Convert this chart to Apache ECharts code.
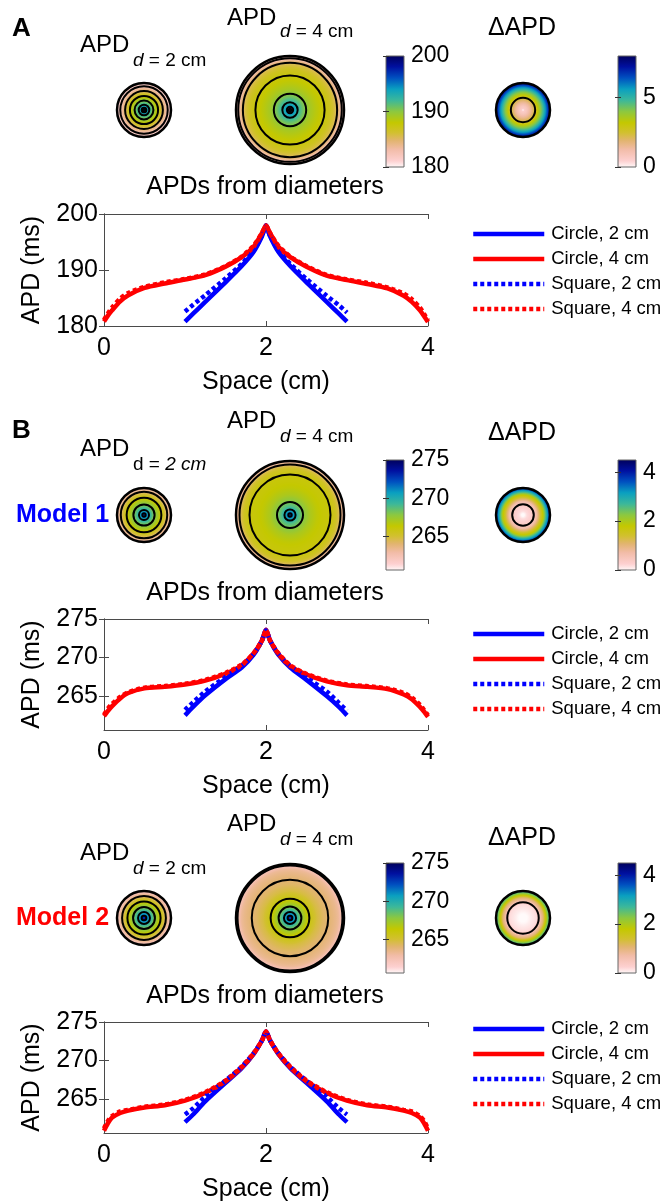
<!DOCTYPE html>
<html><head><meta charset="utf-8">
<script src="https://cdn.jsdelivr.net/npm/echarts@6/dist/echarts.min.js"></script>
<style>html,body{margin:0;padding:0;background:#fff}#c{width:665px;height:1204px}</style>
</head><body><div id="c"></div>
<script>
// ---------------- data ----------------
const xs4 = [0, 0.05, 0.1, 0.2, 0.3, 0.5, 0.75, 1, 1.25, 1.5, 1.7, 1.85, 1.95, 2, 2.05, 2.15, 2.3, 2.5, 2.75, 3, 3.25, 3.5, 3.7, 3.8, 3.9, 3.95, 4];
const xs2 = [1, 1.1, 1.25, 1.5, 1.7, 1.85, 1.95, 2, 2.05, 2.15, 2.3, 2.5, 2.75, 2.9, 3];

const A_circle4 = [180.8, 181.9, 182.8, 184.4, 185.5, 186.8, 187.6, 188.3, 189.1, 190.6, 192.3, 194.2, 196.6, 198.0, 196.6, 194.2, 192.3, 190.6, 189.0, 188.2, 187.5, 186.7, 185.4, 184.3, 182.8, 181.8, 180.7];
const A_square4 = [181.1, 182.3, 183.3, 184.9, 185.9, 187.0, 187.8, 188.4, 189.2, 190.7, 192.4, 194.4, 196.6, 197.9, 196.6, 194.4, 192.4, 190.7, 189.1, 188.3, 187.7, 186.9, 185.8, 184.8, 183.3, 182.2, 181.0];
const A_circle2 = [180.8, 182.2, 184.3, 187.8, 190.7, 193.3, 196.0, 198.0, 196.0, 193.3, 190.7, 187.8, 184.3, 182.2, 180.8];
const A_square2 = [182.6, 183.8, 185.5, 188.5, 191.1, 193.6, 196.1, 197.9, 196.1, 193.6, 191.1, 188.4, 185.4, 183.7, 182.4];

const B1_circle4 = [262.4, 263.1, 263.7, 264.7, 265.4, 266.0, 266.2, 266.5, 267.0, 267.9, 269.0, 270.6, 272.2, 273.6, 272.2, 270.5, 268.9, 267.8, 266.9, 266.4, 266.2, 265.9, 265.2, 264.6, 263.6, 263.0, 262.3];
const B1_square4 = [262.6, 263.4, 264.0, 264.9, 265.5, 266.1, 266.3, 266.6, 267.1, 268.0, 269.1, 270.6, 272.2, 273.5, 272.2, 270.6, 269.0, 267.9, 267.0, 266.5, 266.3, 266.0, 265.4, 264.8, 263.9, 263.2, 262.5];
const B1_circle2 = [262.5, 263.6, 265.1, 267.2, 268.7, 270.4, 272.2, 273.6, 272.2, 270.4, 268.7, 267.1, 265.0, 263.6, 262.5];
const B1_square2 = [263.2, 264.2, 265.6, 267.5, 268.9, 270.5, 272.2, 273.5, 272.2, 270.5, 268.9, 267.4, 265.6, 264.1, 263.1];

const B2_circle4 = [260.9, 261.9, 262.6, 263.2, 263.5, 263.9, 264.2, 264.8, 265.8, 267.3, 269.1, 270.9, 272.6, 273.8, 272.6, 270.9, 269.1, 267.3, 265.8, 264.8, 264.2, 263.9, 263.5, 263.2, 262.6, 261.9, 260.9];
const B2_square4 = [261.2, 262.2, 262.8, 263.4, 263.6, 264.0, 264.3, 264.9, 265.9, 267.4, 269.2, 271.0, 272.6, 273.7, 272.6, 271.0, 269.2, 267.4, 265.9, 264.9, 264.3, 264.0, 263.6, 263.4, 262.8, 262.2, 261.2];
const B2_circle2 = [262.0, 263.0, 264.7, 267.1, 269.0, 270.9, 272.6, 273.8, 272.6, 270.9, 269.0, 267.1, 264.7, 263.0, 262.0];
const B2_square2 = [263.0, 263.8, 265.3, 267.4, 269.2, 271.0, 272.6, 273.7, 272.6, 271.0, 269.2, 267.4, 265.3, 263.8, 263.0];

const legendNames = ['Circle, 2 cm', 'Circle, 4 cm', 'Square, 2 cm', 'Square, 4 cm'];
const xTicks = [0, 2, 4];
const xRange = [0, 4];
const yRangeA = [180, 200];
const yTicksA = [180, 190, 200];
const yRangeB = [260.6, 275];
const yTicksB = [265, 270, 275];
const deltaRangeA = [0, 8];
const deltaTicksA = [0, 5];
const deltaRangeB = [0, 4.5];
const deltaTicksB = [0, 2, 4];
const contourA = [182.5, 185, 187.5, 190, 192.5, 195, 197.5];
const contourB = [262, 264, 266, 268, 270, 272];
const contourDeltaA = [2.5, 7.5];
const contourDeltaB = [0.5];

// ---------------- style ----------------
const FONT = '"Liberation Sans", Arial, Helvetica, sans-serif';
const CMAP = [[0, '#fffafa'], [0.06, '#fdd0d0'], [0.16, '#f2bca8'], [0.24, '#e2b470'], [0.31, '#d2c030'],
  [0.4, '#c4c800'], [0.5, '#8cc840'], [0.6, '#3cb89a'], [0.7, '#0aa0c0'], [0.8, '#0050c0'], [0.9, '#0010a0'], [1, '#00005a']];
function h2r(h) { return [parseInt(h.slice(1, 3), 16), parseInt(h.slice(3, 5), 16), parseInt(h.slice(5, 7), 16)]; }
function cmap(t) {
  t = Math.max(0, Math.min(1, t));
  for (let i = 0; i < CMAP.length - 1; i++) {
    const a = CMAP[i], b = CMAP[i + 1];
    if (t <= b[0]) {
      const f = (t - a[0]) / (b[0] - a[0]); const ca = h2r(a[1]), cb = h2r(b[1]);
      return 'rgb(' + ca.map((v, k) => Math.round(v + (cb[k] - v) * f)).join(',') + ')';
    }
  }
  return CMAP[CMAP.length - 1][1];
}
function interpXY(xs, ys, x) {
  for (let i = 0; i < xs.length - 1; i++) {
    if (x >= xs[i] && x <= xs[i + 1]) return ys[i] + (ys[i + 1] - ys[i]) * (x - xs[i]) / (xs[i + 1] - xs[i]);
  }
  return x < xs[0] ? ys[0] : ys[ys.length - 1];
}
function halfProfile(xs, ys) {
  const p = []; xs.forEach((x, i) => { if (x <= 2) p.push([2 - x, ys[i]]); });
  return p.sort((a, b) => a[0] - b[0]);
}
function deltaProfile(c2, c4) {
  const p = []; xs2.forEach((x, i) => { if (x <= 2) p.push([2 - x, interpXY(xs4, c4, x) - c2[i]]); });
  return p.sort((a, b) => a[0] - b[0]);
}
function profAt(p, r) { return interpXY(p.map(q => q[0]), p.map(q => q[1]), r); }
function crossing(p, L) {
  for (let i = 0; i < p.length - 1; i++) {
    const a = p[i], b = p[i + 1];
    if ((a[1] - L) * (b[1] - L) <= 0 && a[1] !== b[1]) return a[0] + (L - a[1]) / (b[1] - a[1]) * (b[0] - a[0]);
  }
  return null;
}

// ---------------- builders ----------------
const grids = [], xAxis = [], yAxis = [], series = [], legends = [], graphics = [];
function addGrid(g) { grids.push(g); return grids.length - 1; }
function addX(o) { xAxis.push(o); return xAxis.length - 1; }
function addY(o) { yAxis.push(o); return yAxis.length - 1; }
const AXC = '#4a4a4a';

function makeDisk(profile, R, range, levels) {
  return function (params, api) {
    const c = api.coord([0, 0]);
    const pr = api.size([R, 0])[0];
    const N = 90, stops = [];
    for (let i = 0; i <= N; i++) {
      const v = profAt(profile, R * i / N);
      stops.push({ offset: i / N, color: cmap((v - range[0]) / (range[1] - range[0])) });
    }
    const ch = [{ type: 'circle', shape: { cx: c[0], cy: c[1], r: pr },
      style: { fill: new echarts.graphic.RadialGradient(0.5, 0.5, 0.5, stops) } }];
    levels.forEach(L => {
      const r = crossing(profile, L);
      if (r !== null && r < R * 0.985) {
        ch.push({ type: 'circle', shape: { cx: c[0], cy: c[1], r: Math.max(api.size([r, 0])[0], 1.3) },
          style: { fill: 'none', stroke: '#000', lineWidth: 2 } });
      }
    });
    ch.push({ type: 'circle', shape: { cx: c[0], cy: c[1], r: pr }, style: { fill: 'none', stroke: '#000', lineWidth: 2.5 } });
    return { type: 'group', children: ch };
  };
}
function addDisk(cx, cy, profile, R, range, levels) {
  const gi = addGrid({ left: cx - 54, top: cy - 54, width: 108, height: 108 });
  const xi = addX({ type: 'value', gridIndex: gi, min: -2, max: 2, show: false });
  const yi = addY({ type: 'value', gridIndex: gi, min: -2, max: 2, show: false });
  series.push({ type: 'custom', coordinateSystem: 'cartesian2d', xAxisIndex: xi, yAxisIndex: yi,
    data: [[0, 0]], renderItem: makeDisk(profile, R, range, levels), silent: true, clip: false });
}
function addColorbar(left, top, h, range, ticks) {
  const gi = addGrid({ left: left, top: top, width: 18, height: h });
  const xi = addX({ type: 'value', gridIndex: gi, min: 0, max: 1, show: false });
  const yi = addY({ type: 'value', gridIndex: gi, min: range[0], max: range[1], position: 'right', z: 5,
    axisLine: { show: false }, splitLine: { show: false },
    axisTick: { show: true, inside: true, length: 3, customValues: ticks, lineStyle: { color: '#333' } },
    axisLabel: { customValues: ticks, fontSize: 23, fontFamily: FONT, color: '#000', margin: 7 } });
  addY({ type: 'value', gridIndex: gi, min: range[0], max: range[1], position: 'left', z: 5,
    axisLine: { show: false }, splitLine: { show: false }, axisLabel: { show: false },
    axisTick: { show: true, inside: true, length: 3, customValues: ticks, lineStyle: { color: '#333' } } });
  const stops = CMAP.map(s => ({ offset: s[0], color: s[1] }));
  series.push({ type: 'custom', coordinateSystem: 'cartesian2d', xAxisIndex: xi, yAxisIndex: yi,
    data: [[0, range[0]]], silent: true, clip: false,
    renderItem: function (params, api) {
      const p0 = api.coord([0, range[1]]), p1 = api.coord([1, range[0]]);
      return { type: 'rect', shape: { x: p0[0], y: p0[1], width: p1[0] - p0[0], height: p1[1] - p0[1] },
        style: { fill: new echarts.graphic.LinearGradient(0, 1, 0, 0, stops), stroke: '#666', lineWidth: 1 } };
    } });
}
function addLinePlot(p) {
  const gi = addGrid({ left: 104, top: p.lineTop, width: 324, height: p.lineH });
  const tick = { show: true, inside: true, length: 5, lineStyle: { color: AXC } };
  const line = { show: true, lineStyle: { color: AXC, width: 1 } };
  const nameStyle = { fontSize: 25, fontFamily: FONT, color: '#000' };
  const xb = addX({ type: 'value', gridIndex: gi, min: xRange[0], max: xRange[1], position: 'bottom',
    axisLine: line, splitLine: { show: false }, axisTick: Object.assign({ customValues: xTicks }, tick),
    axisLabel: { customValues: xTicks, fontSize: 25, fontFamily: FONT, color: '#000', margin: 10 },
    name: 'Space (cm)', nameLocation: 'middle', nameGap: 44, nameTextStyle: nameStyle });
  addX({ type: 'value', gridIndex: gi, min: xRange[0], max: xRange[1], position: 'top',
    axisLine: line, splitLine: { show: false }, axisTick: Object.assign({ customValues: xTicks }, tick), axisLabel: { show: false } });
  const yl = addY({ type: 'value', gridIndex: gi, min: p.yRange[0], max: p.yRange[1], position: 'left',
    axisLine: line, splitLine: { show: false }, axisTick: Object.assign({ customValues: p.yTicks }, tick),
    axisLabel: { customValues: p.yTicks, fontSize: 25, fontFamily: FONT, color: '#000', margin: 6 },
    name: 'APD (ms)', nameLocation: 'middle', nameGap: 59, nameRotate: 90, nameTextStyle: nameStyle });
  addY({ type: 'value', gridIndex: gi, min: p.yRange[0], max: p.yRange[1], position: 'right',
    axisLine: line, splitLine: { show: false }, axisTick: Object.assign({ customValues: p.yTicks }, tick), axisLabel: { show: false } });
  const defs = [
    [legendNames[0], xs2, p.c2, '#0000ff', 'solid'],
    [legendNames[1], xs4, p.c4, '#ff0000', 'solid'],
    [legendNames[2], xs2, p.s2, '#0000ff', [4, 3]],
    [legendNames[3], xs4, p.s4, '#ff0000', [4, 3]]];
  defs.forEach(d => series.push({ type: 'line', name: d[0], xAxisIndex: xb, yAxisIndex: yl,
    data: d[1].map((x, i) => [x, d[2][i]]), symbol: 'none', showSymbol: false, smooth: 0.25, silent: true,
    lineStyle: { color: d[3], width: 4.5, type: d[4], cap: 'butt' }, itemStyle: { color: d[3] } }));
  legends.push({ orient: 'vertical', left: 471, top: p.legendTop, padding: 0, itemWidth: 71, itemHeight: 14, itemGap: 6,
    selectedMode: false, data: legendNames, itemStyle: { opacity: 0 },
    lineStyle: { width: 4.5 },
    textStyle: { fontSize: 18.5, fontFamily: FONT, color: '#000', padding: [0, 0, 0, 2] } });
}
function txt(x, y, text, size, extra) {
  const st = Object.assign({ text: text, fontSize: size, fontFamily: FONT, fill: '#000',
    textAlign: 'left', textVerticalAlign: 'middle', align: 'left', verticalAlign: 'middle' }, extra || {});
  graphics.push({ type: 'text', x: x, y: y, silent: true, style: st });
}
function subRich(size) {
  return { i: { fontStyle: 'italic', fontSize: size, fontFamily: FONT, fill: '#000' } };
}

const panels = [
  { label: 'A', labelY: 29, model: null, diskY: 110, cbTop: 56, cbH: 111, lineTop: 214, lineH: 112, titleY: 187,
    apdSmallY: 45, subSmallY: 61, apdLargeY: 18, subLargeY: 32, deltaY: 28, legendTop: 224.5,
    yRange: yRangeA, yTicks: yTicksA, c2: A_circle2, c4: A_circle4, s2: A_square2, s4: A_square4,
    levels: contourA, dRange: deltaRangeA, dTicks: deltaTicksA, dLevels: contourDeltaA, sub2: '{i|d} = 2 cm' },
  { label: 'B', labelY: 431, model: ['Model 1', '#0000ff'], diskY: 515, cbTop: 460, cbH: 110, lineTop: 619, lineH: 111, titleY: 593,
    apdSmallY: 449, subSmallY: 465, apdLargeY: 421, subLargeY: 437, deltaY: 433, legendTop: 624.5,
    yRange: yRangeB, yTicks: yTicksB, c2: B1_circle2, c4: B1_circle4, s2: B1_square2, s4: B1_square4,
    levels: contourB, dRange: deltaRangeB, dTicks: deltaTicksB, dLevels: contourDeltaB, sub2: 'd = {i|2 cm}' },
  { label: null, model: ['Model 2', '#ff0000'], diskY: 918, cbTop: 863, cbH: 110, lineTop: 1022, lineH: 111, titleY: 996,
    apdSmallY: 853, subSmallY: 869, apdLargeY: 824, subLargeY: 840, deltaY: 838, legendTop: 1019.5,
    yRange: yRangeB, yTicks: yTicksB, c2: B2_circle2, c4: B2_circle4, s2: B2_square2, s4: B2_square4,
    levels: contourB, dRange: deltaRangeB, dTicks: deltaTicksB, dLevels: contourDeltaB, sub2: '{i|d} = 2 cm' }
];

panels.forEach(p => {
  const range = p.yRange;
  addDisk(144, p.diskY, halfProfile(xs2, p.c2), 1, range, p.levels);
  addDisk(290, p.diskY, halfProfile(xs4, p.c4), 2, range, p.levels);
  addDisk(523, p.diskY, deltaProfile(p.c2, p.c4), 1, p.dRange, p.dLevels);
  addColorbar(386, p.cbTop, p.cbH, range, p.yTicks);
  addColorbar(618, p.cbTop, p.cbH, p.dRange, p.dTicks);
  addLinePlot(p);
  if (p.label) txt(12, p.labelY, p.label, 26, { fontWeight: 'bold' });
  if (p.model) txt(16, p.diskY, p.model[0], 25, { fontWeight: 'bold', fill: p.model[1] });
  txt(80, p.apdSmallY, 'APD', 24);
  txt(133, p.subSmallY, p.sub2, 19, { rich: subRich(19) });
  txt(227, p.apdLargeY, 'APD', 24);
  txt(280, p.subLargeY, '{i|d} = 4 cm', 19, { rich: subRich(19) });
  txt(488, p.deltaY, '\u0394APD', 25);
  txt(265, p.titleY, 'APDs from diameters', 25, { textAlign: 'center', align: 'center' });
});

const chart = echarts.init(document.getElementById('c'), null, { renderer: 'canvas' });
chart.setOption({
  animation: false,
  backgroundColor: '#fff',
  grid: grids, xAxis: xAxis, yAxis: yAxis, series: series, legend: legends,
  graphic: { elements: graphics }
});
</script></body></html>
